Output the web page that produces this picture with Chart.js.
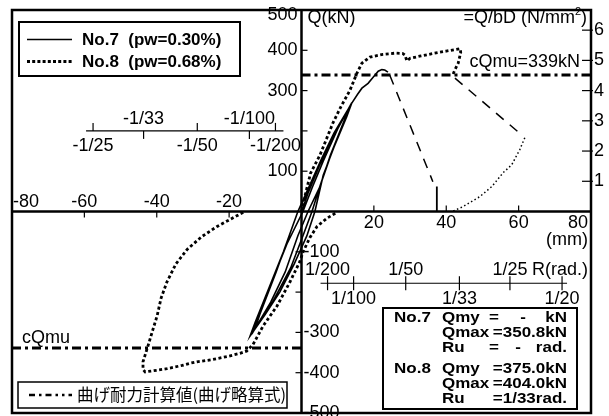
<!DOCTYPE html>
<html><head><meta charset="utf-8">
<script src="https://cdn.jsdelivr.net/npm/chart.js@4.4.0/dist/chart.umd.min.js"></script>
<style>html,body{margin:0;padding:0;background:#fff}canvas{display:block}</style>
</head><body>
<canvas id="c" width="609" height="416"></canvas>
<script>
// ---------- data (displacement mm, shear kN) ----------
const no7X = [0,2,5,8,11,13.9, 12.5,9,6,3.7, 1.5,-2,-6,-10,-14.2, -12.8,-9,-5,-1, 1.8,5,9,13.6, 12,8,5,2.9, 0.4,-3,-8,-13.6, -12.2,-8,-4,0.4, 3,6,10,13.9, 12.3,8.5,5,1.8, -1,-4.5,-8.5,-12.8, -11.5,-7,-3,-1, 2,5.5,9,12,13.9,15.5,16.7,18.4,19.8,21.2,22.2,23,23.9];
const no7Q = [0,50,115,175,225,269, 235,160,90,0, -60,-130,-200,-255,-309, -275,-190,-100,0, 50,115,190,265, 230,140,60,0, -60,-140,-225,-300, -265,-170,-80,0, 60,125,205,270, 232,150,60,0, -60,-150,-225,-290, -255,-150,-50,0, 60,130,195,240,269,291,306,318,333,348,352,351,346];
const no7DropX = [24.4,36.3];
const no7DropQ = [338,74];
const no7FailX = [37.4,37.4];
const no7FailQ = [62,0];

const no8EnvX = [0,1,2.5,5.1,8.7,11,13.4,15.3,16.7,18.9,22.5,26,28,28.6,29.1,30,33,36.3,40,43.8,44,43.3,42.3,41.9];
const no8EnvQ = [0,40,95,140,220,262,301,343,368,383,390,393,392,388,374,380,386,392,398,404,395,368,350,341];
const no8DropX = [42.4,59.8];
const no8DropQ = [331,198];
const no8TailX = [61.7,60.3,58.1,55.7,52.6,49.3,44.6,41.6];
const no8TailQ = [183,153,116,96,62,37,12,0];
const no8LoopX = [-16.1,-19.8,-23.3,-27.5,-31.6,-34.7,-37.2,-38.8,-39.9,-41.3,-42.4,-43.8,-43.8,-43.2,-40,-37.2,-33,-30.5,-28.9,-25,-20.6,-17,-15.1,-13.4,-10.6,-6.8,-3.2,-0.4,0.4,2.3,4.3,7,9.8];
const no8LoopQ = [-2,-20,-37,-62,-94,-130,-175,-215,-259,-300,-333,-373,-392,-398,-394,-390,-382,-376,-373,-368,-360,-352,-346,-330,-284,-235,-175,-123,-101,-65,-37,-17,-2];

const cQmu = 339;
const cQmuUpperX = [0,80];
const cQmuLowerX = [-80,0];

// ---------- ticks / labels ----------
const xTickValues = [-80,-60,-40,-20,20,40,60,80];
const yTickValues = [-500,-400,-300,-200,-100,100,200,300,400,500];
const yLabelValues = [-500,-400,-300,-100,100,300,400,500];
const stressTicks = [1,2,3,4,5,6];
const kNPerStress = 75;          // 1 N/mm2 = 75 kN
const memberLength = 1440;       // mm, R = delta / L
const radNegValues = [-1/25,-1/33,-1/50,-1/100,-1/200];
const radNegLabels = ['-1/25','-1/33','-1/50','-1/100','-1/200'];
const radNegAbove  = [false,true,false,true,false];
const radPosValues = [1/200,1/100,1/50,1/33,1/25,1/20];
const radPosLabels = ['1/200','1/100','1/50','1/33','1/25','1/20'];
const radPosAbove  = [true,false,true,false,true,false];
const infoRows = [
  ['No.7','Qmy',null,'=','-','kN'],
  [null,'Qmax','=350.8kN'],
  [null,'Ru',null,'=','-','rad.'],
  ['No.8','Qmy','=375.0kN'],
  [null,'Qmax','=404.0kN'],
  [null,'Ru','=1/33rad.']
];

const pts = (xs, ys) => xs.map((v,i)=>({x:v,y:ys[i]}));
const FONT = '"Liberation Sans", Arial, sans-serif';

function txt(ctx, s, x, y, align, font, sy){
  ctx.save();
  ctx.font = font; ctx.textAlign = align; ctx.textBaseline = 'middle'; ctx.fillStyle = '#000';
  ctx.translate(x, y); if (sy) ctx.scale(1, sy);
  ctx.fillText(s, 0, 0);
  ctx.restore();
}
function seg(ctx, x1,y1,x2,y2){ ctx.beginPath(); ctx.moveTo(x1,y1); ctx.lineTo(x2,y2); ctx.stroke(); }

const axesPlugin = {
  id:'axesPlugin',
  beforeDatasetsDraw(chart){
    const {ctx, chartArea:a, scales:{x, y, ys}} = chart;
    const x0 = x.getPixelForValue(0), y0 = y.getPixelForValue(0);
    ctx.save();
    ctx.strokeStyle = '#000';
    ctx.lineWidth = 2.5;
    seg(ctx, a.left, y0, a.right, y0);
    seg(ctx, x0, a.top, x0, a.bottom);
    ctx.lineWidth = 1.2;
    const f18 = '18px ' + FONT;
    ctx.font = f18;
    xTickValues.forEach(v=>{
      const px = x.getPixelForValue(v);
      if (v < 0) seg(ctx, px, y0, px, y0+6); else seg(ctx, px, y0, px, y0-6);
      const s = String(v), w = ctx.measureText(s).width;
      let cx = Math.max(a.left + 1 + w/2, Math.min(a.right - 3 - w/2, px));
      txt(ctx, s, cx, v < 0 ? y0 - 9 : y0 + 12, 'center', f18);
    });
    yTickValues.forEach(v=>{
      const py = y.getPixelForValue(v);
      if (v > 0) seg(ctx, x0, py, x0+6, py); else seg(ctx, x0-6, py, x0, py);
    });
    yLabelValues.forEach(v=>{
      const py = y.getPixelForValue(v);
      if (v > 0) txt(ctx, String(v), x0-4, Math.max(py, a.top+5), 'right', f18);
      else txt(ctx, String(v), x0+2, py, 'left', f18);
    });
    stressTicks.forEach(s=>{
      const py = ys.getPixelForValue(s);
      seg(ctx, a.right-9, py, a.right+2, py);
      txt(ctx, String(s), a.right+3, py, 'left', f18);
    });
    const ry1 = y.getPixelForValue(200);
    const nx = radNegValues.map(r=>x.getPixelForValue(r*memberLength));
    seg(ctx, Math.min(...nx)-7, ry1, Math.max(...nx)+8, ry1);
    radNegValues.forEach((r,i)=>{
      const px = nx[i];
      if (radNegAbove[i]) { seg(ctx, px, ry1, px, ry1+8); txt(ctx, radNegLabels[i], px, ry1-12, 'center', f18); }
      else { seg(ctx, px, ry1-8, px, ry1); txt(ctx, radNegLabels[i], px, ry1+15, 'center', f18); }
    });
    const ry2 = y.getPixelForValue(-178);
    const px2 = radPosValues.map(r=>x.getPixelForValue(r*memberLength));
    seg(ctx, Math.min(...px2)-7, ry2, Math.max(...px2)+5, ry2);
    radPosValues.forEach((r,i)=>{
      const px = px2[i];
      seg(ctx, px, ry2-7, px, ry2+7);
      txt(ctx, radPosLabels[i], px, radPosAbove[i] ? ry2-13 : ry2+16, 'center', f18);
    });
    ctx.restore();
  },
  afterDatasetsDraw(chart){
    const {ctx, chartArea:a, scales:{x, y}} = chart;
    const x0 = x.getPixelForValue(0);
    const f18 = '18px ' + FONT;
    ctx.save();
    ctx.strokeStyle = '#000';
    ctx.lineWidth = 2.5;
    ctx.strokeRect(a.left, a.top, a.right-a.left, a.bottom-a.top);
    txt(ctx, 'Q(kN)', x0+6, 18, 'left', f18);
    const part1 = '=Q/bD (N/mm', sup = '2', part3 = ')';
    ctx.font = f18; const w1 = ctx.measureText(part1).width, w3 = ctx.measureText(part3).width;
    ctx.font = '11px ' + FONT; const w2 = ctx.measureText(sup).width;
    const endX = a.right - 4, startX = endX - w1 - w2 - w3;
    txt(ctx, part1, startX, 18, 'left', f18);
    txt(ctx, sup, startX + w1, 12, 'left', '11px ' + FONT);
    txt(ctx, part3, startX + w1 + w2, 18, 'left', f18);
    txt(ctx, 'cQmu=339kN', a.right - 11, y.getPixelForValue(cQmu) - 13, 'right', f18);
    txt(ctx, 'cQmu', a.left + 10, y.getPixelForValue(-cQmu) - 10, 'left', f18);
    txt(ctx, '(mm)', a.right - 3, y.getPixelForValue(0) + 29, 'right', f18);
    txt(ctx, 'R(rad.)', a.right - 3, y.getPixelForValue(-178) - 13, 'right', f18);

    ctx.lineWidth = 2;
    ctx.strokeRect(19, 22, 221, 54);
    ctx.lineWidth = 1.5; ctx.setLineDash([]);
    seg(ctx, 27, 39.5, 72, 39.5);
    ctx.lineWidth = 2.8; ctx.setLineDash([3,2.2]);
    seg(ctx, 27, 61.5, 72, 61.5);
    ctx.setLineDash([]);
    const fb = 'bold 17px ' + FONT;
    txt(ctx, 'No.7  (pw=0.30%)', 82, 40, 'left', fb);
    txt(ctx, 'No.8  (pw=0.68%)', 82, 62, 'left', fb);

    ctx.lineWidth = 1.5;
    ctx.strokeRect(18, 382, 269, 26);
    ctx.lineWidth = 2.6; ctx.setLineDash([6,4,2.5,4,6,4,2.5,4,2.5,4]);
    seg(ctx, 29, 395, 72, 395);
    ctx.setLineDash([]);
    txt(ctx, '曲げ耐力計算値(曲げ略算式)', 77, 395, 'left', '16.5px "Noto Sans CJK JP", sans-serif');

    ctx.lineWidth = 2;
    ctx.strokeRect(383, 308, 194, 101);
    const fi = 'bold 17px ' + FONT, sy = 0.86;
    const rowY = [318, 333, 348, 369, 384, 399];
    infoRows.forEach((r,i)=>{
      const yy = rowY[i];
      if (r[0]) txt(ctx, r[0], 394, yy, 'left', fi, sy);
      txt(ctx, r[1], 442, yy, 'left', fi, sy);
      if (r[2]) txt(ctx, r[2], 567, yy, 'right', fi, sy);
      if (r[3]) {
        txt(ctx, r[3], 494, yy, 'center', fi, sy);
        txt(ctx, r[4], r[5]==='kN' ? 523 : 518, yy, 'center', fi, sy);
        txt(ctx, r[5], 567, yy, 'right', fi, sy);
      }
    });
    ctx.restore();
  }
};

const line = (data, width, dash) => ({
  data, showLine:true, pointRadius:0, borderColor:'#000', backgroundColor:'#000',
  borderWidth:width, borderDash:dash, tension:0, fill:false
});

new Chart(document.getElementById('c'), {
  type:'scatter',
  data:{ datasets:[
    line(pts(cQmuUpperX, cQmuUpperX.map(()=>cQmu)), 3, [9,4,3,4]),
    line(pts(cQmuLowerX, cQmuLowerX.map(()=>-cQmu)), 3, [9,4,3,4]),
    line(pts(no7X, no7Q), 1.6, []),
    line(pts(no7DropX, no7DropQ), 1.5, [10,8]),
    line(pts(no7FailX, no7FailQ), 1.8, []),
    line(pts(no8EnvX, no8EnvQ), 2.8, [3,2.5]),
    line(pts(no8DropX, no8DropQ), 1.5, [10,8]),
    line(pts(no8TailX, no8TailQ), 1.5, [1.5,2.5]),
    line(pts(no8LoopX, no8LoopQ), 2.8, [3,2.5])
  ]},
  options:{
    responsive:false, animation:false, devicePixelRatio:1,
    layout:{ padding:{ left:12, right:18, top:10, bottom:3 } },
    plugins:{ legend:{display:false}, tooltip:{enabled:false} },
    scales:{
      x:{ type:'linear', min:-80, max:80, display:false },
      y:{ type:'linear', min:-500, max:500, display:false },
      ys:{ type:'linear', axis:'y', min:-500/kNPerStress, max:500/kNPerStress, display:false }
    }
  },
  plugins:[axesPlugin]
});
</script>
</body></html>
